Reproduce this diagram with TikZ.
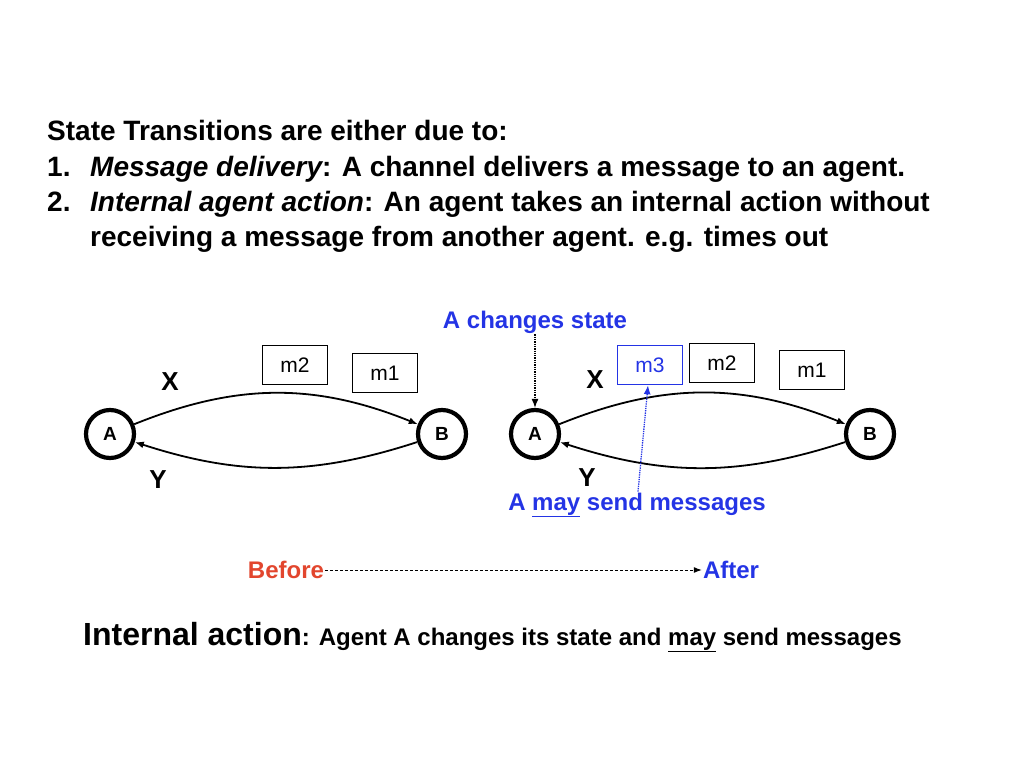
\documentclass[tikz,border=0pt]{standalone}
\usepackage{fontspec}
\setmainfont{Liberation Sans}
\usetikzlibrary{arrows.meta}
\definecolor{beforered}{RGB}{226,70,46}
\definecolor{afterblue}{RGB}{36,52,229}
\tikzset{>={Latex[length=9pt,width=7pt]},
  agent/.style={circle, draw, line width=4.2pt, minimum size=48pt, inner sep=0pt, font=\bfseries\fontsize{19}{19}\selectfont},
  msg/.style={draw, line width=1.5pt, minimum width=65pt, minimum height=39pt, font=\fontsize{21}{21}\selectfont},
  chan/.style={->, line width=1.8pt},
  chanlabel/.style={inner sep=0pt, font=\bfseries\fontsize{26}{26}\selectfont},
  note/.style={inner sep=1pt, text=afterblue, font=\bfseries\fontsize{24}{24}\selectfont},
  textline/.style={anchor=base west, inner sep=0pt, font=\bfseries\fontsize{28}{28}\selectfont}
}

\begin{document}
\begin{tikzpicture}[x=1pt,y=1pt]
\useasboundingbox (0,0) rectangle (1024,-768);

% heading
\node[textline] (head) at (47,-140) {State Transitions are either due to:};
\node[textline] (num1) at (47,-176) {1.};
\node[textline] (item1) at (90,-176) {\itshape Message delivery\upshape: A channel delivers a message to an agent.};
\node[textline] (num2) at (47,-211) {2.};
\node[textline] (item2) at (90,-211) {\itshape Internal agent action\upshape: An agent takes an internal action without};
\node[textline] (item2b) at (90,-246) {receiving a message from another agent. e.g. times out};

% before
\node[agent] (A1) at (110,-434) {A};
\node[agent] (B1) at (442,-434) {B};
\draw[chan] (A1) to[bend left=22] (B1);
\draw[chan] (B1) to[bend left=18] (A1);
\node[chanlabel] (X1) at (170,-382) {X};
\node[chanlabel] (Y1) at (158,-480) {Y};
\node[msg] (m2a) at (295,-365) {m2};
\node[msg] (m1a) at (385,-373) {m1};

% after
\node[agent] (A2) at (535,-434) {A};
\node[agent] (B2) at (870,-434) {B};
\draw[chan] (A2) to[bend left=22] (B2);
\draw[chan] (B2) to[bend left=18] (A2);
\node[chanlabel] (X2) at (595,-380) {X};
\node[chanlabel] (Y2) at (587,-478) {Y};
\node[msg, draw=afterblue, text=afterblue] (m3b) at (650,-365) {m3};
\node[msg] (m2b) at (722,-363) {m2};
\node[msg] (m1b) at (812,-370) {m1};

\node[note] (chg) at (535,-322) {A changes state};
\node[note] (may) at (637,-505) {A \underline{may} send messages};
\draw[->, line width=1.3pt, densely dotted] (chg) -- (A2);
\draw[->, afterblue, line width=1.3pt, densely dotted] (may.north -| 638,0) -- ([xshift=-2pt]m3b.south);

% before / after
\node[note, text=beforered] (before) at (286,-570) {Before};
\node[note] (after) at (731,-570) {After};
\draw[->, line width=1pt, dash pattern=on 3pt off 2pt, >={Latex[length=8pt,width=6pt]}] (before) -- (after);

% caption
\node[anchor=base west, inner sep=0pt] (caption) at (83,-645)
  {\bfseries\fontsize{32}{32}\selectfont Internal action\fontsize{24}{24}\selectfont: Agent A changes its state and \underline{may} send messages};
\end{tikzpicture}
\end{document}
